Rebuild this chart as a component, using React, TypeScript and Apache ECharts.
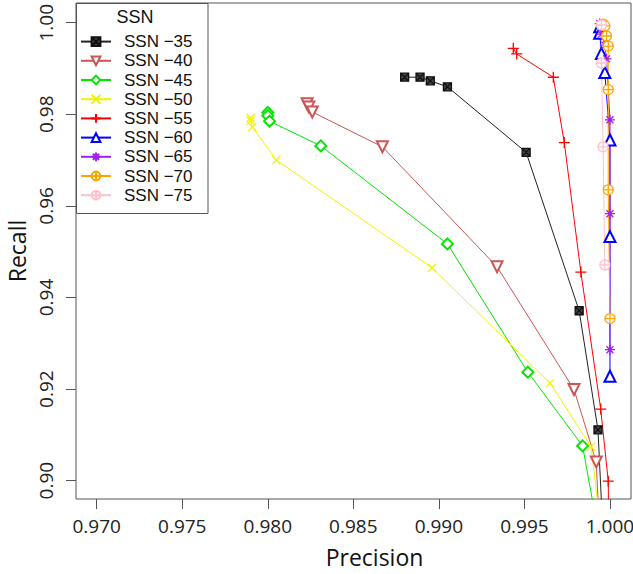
import React, { useEffect, useRef } from "react";
import * as echarts from "echarts";

// ---- data ----
const seriesNames = ["SSN −35", "SSN −40", "SSN −45", "SSN −50", "SSN −55", "SSN −60", "SSN −65", "SSN −70", "SSN −75"];

const precision35 = [0.988, 0.9889, 0.9895, 0.9905, 0.9951, 0.9982, 0.9993, 0.9997];
const recall35 = [0.9881, 0.9881, 0.9873, 0.986, 0.9717, 0.9371, 0.9111, 0.88];

const precision40 = [0.9823, 0.9824, 0.9826, 0.9867, 0.9934, 0.9979, 0.9992, 0.9995];
const recall40 = [0.9823, 0.9816, 0.9805, 0.9729, 0.9467, 0.9199, 0.9041, 0.88];

const precision45 = [0.98, 0.98, 0.9801, 0.9831, 0.9905, 0.9952, 0.9984, 0.9993];
const recall45 = [0.9804, 0.9797, 0.9785, 0.9731, 0.9517, 0.9237, 0.9076, 0.889];

const precision50 = [0.979, 0.979, 0.9791, 0.9805, 0.9896, 0.9965, 0.9989, 0.9996];
const recall50 = [0.9792, 0.9786, 0.9772, 0.97, 0.9465, 0.9213, 0.9074, 0.885];

const precision55 = [0.99435, 0.99455, 0.99669, 0.99733, 0.9983, 0.99946, 0.9999, 0.99995];
const recall55 = [0.99441, 0.99317, 0.98809, 0.97382, 0.94554, 0.91564, 0.89989, 0.88];

const precision60 = [0.9994, 0.9994, 0.9995, 0.9997, 1.0, 1.0, 1.0];
const recall60 = [0.9991, 0.9977, 0.9933, 0.9891, 0.9744, 0.9533, 0.9228];

const precision65 = [0.9994, 0.9995, 0.9997, 0.9998, 1.0, 1.0, 1.0];
const recall65 = [0.9998, 0.9975, 0.9951, 0.9921, 0.9788, 0.9583, 0.9286];

const precision70 = [0.9996, 0.9997, 0.9998, 0.9999, 0.9999, 0.9999, 1.0];
const recall70 = [0.9997, 0.9993, 0.9971, 0.9949, 0.9854, 0.9635, 0.9354];

const precision75 = [0.9995, 0.9995, 0.9996, 0.9997];
const recall75 = [0.9995, 0.9912, 0.9729, 0.9471];

const xTicks = [0.97, 0.975, 0.98, 0.985, 0.99, 0.995, 1.0];
const yTicks = [0.9, 0.92, 0.94, 0.96, 0.98, 1.0];

// ---- styles ----
const FONT = "Open Sans";
const LEGEND_FONT = "Liberation Sans";
const SYM_BOXX = "path://M0 0H10V10H0ZM0 0L10 10M10 0L0 10";
const SYM_X = "path://M0 0L10 10M10 0L0 10";
const SYM_PLUS = "path://M5 0V10M0 5H10";
const SYM_STAR = "path://M5 0V10M0 5H10M1.5 1.5L8.5 8.5M8.5 1.5L1.5 8.5";
const SYM_CPLUS = "path://M10 5A5 5 0 1 1 0 5A5 5 0 1 1 10 5ZM5 0V10M0 5H10";

function pairs(xs: number[], ys: number[]) {
  return xs.map((x, i) => [x, ys[i]]);
}

function mk(
  name: string,
  xs: number[],
  ys: number[],
  color: string,
  symbol: string,
  size: number,
  fill: string,
  stroke: string,
  rotate = 0
) {
  return {
    type: "line",
    name,
    data: pairs(xs, ys),
    symbol,
    symbolSize: size,
    symbolRotate: rotate,
    symbolKeepAspect: true,
    showAllSymbol: true,
    clip: true,
    lineStyle: { color, width: 1 },
    itemStyle: { color: fill, borderColor: stroke, borderWidth: 1.3 },
    emphasis: { disabled: true },
  };
}

export default function App() {
  const ref = useRef<HTMLDivElement>(null);
  useEffect(() => {
    if (!ref.current) return;
    const chart = echarts.init(ref.current, null, { renderer: "svg" });
    const option: any = {
      animation: false,
      backgroundColor: "#fff",
      textStyle: { fontFamily: FONT },
      grid: {
        left: 76,
        right: 2,
        top: 3,
        bottom: 75,
        outerBoundsMode: "none",
        containLabel: false,
        show: true,
        borderColor: "#555",
        borderWidth: 1,
        backgroundColor: "transparent",
      },
      xAxis: {
        type: "value",
        min: 0.96879,
        max: 1.00123,
        name: "Precision",
        nameLocation: "middle",
        nameGap: 46,
        nameMoveOverlap: false,
        nameTextStyle: { fontSize: 23, color: "#111", fontFamily: FONT, padding: [0, 0, 0, 42] },
        axisLine: { show: false },
        splitLine: { show: false },
        axisTick: { show: true, length: 10, lineStyle: { color: "#555" }, customValues: xTicks },
        axisLabel: {
          fontSize: 19,
          color: "#222",
          margin: 17,
          fontFamily: FONT,
          customValues: xTicks,
          formatter: (v: number) => v.toFixed(3),
        },
      },
      yAxis: {
        type: "value",
        min: 0.896,
        max: 1.0043,
        name: "Recall",
        nameLocation: "middle",
        nameGap: 48,
        nameMoveOverlap: false,
        nameTextStyle: { fontSize: 23, color: "#111", fontFamily: FONT },
        axisLine: { show: false },
        splitLine: { show: false },
        axisTick: { show: true, length: 10, lineStyle: { color: "#555" }, customValues: yTicks },
        axisLabel: {
          fontSize: 19,
          color: "#222",
          margin: 21,
          rotate: 90,
          fontFamily: FONT,
          customValues: yTicks,
          formatter: (v: number) => v.toFixed(2),
        },
      },
      legend: {
        data: seriesNames,
        orient: "vertical",
        left: 80,
        top: 32,
        padding: 0,
        itemWidth: 30,
        itemHeight: 11,
        itemGap: 0,
        selectedMode: false,
        z: 10,
        textStyle: { fontSize: 17, lineHeight: 19.2, color: "#111", fontFamily: LEGEND_FONT, padding: [0, 0, 0, 8] },
      },
      graphic: [
        {
          type: "rect",
          z: 5,
          shape: { x: 76.5, y: 3.5, width: 131.5, height: 210 },
          style: { fill: "#fff", stroke: "#555", lineWidth: 1 },
        },
        {
          type: "text",
          z: 6,
          x: 135,
          y: 17,
          style: { text: "SSN", fontSize: 18, fontFamily: LEGEND_FONT, fill: "#111", align: "center", verticalAlign: "middle" },
        },
      ],
      series: [
        mk(seriesNames[0], precision35, recall35, "#222", SYM_BOXX, 8, "#444", "#111"),
        mk(seriesNames[1], precision40, recall40, "#CD5555", "emptyTriangle", 11, "#CD5555", "#CD5555", 180),
        mk(seriesNames[2], precision45, recall45, "#00E600", "emptyDiamond", 11, "#00E600", "#00E600"),
        mk(seriesNames[3], precision50, recall50, "#F2F200", SYM_X, 8, "#F2F200", "#F2F200"),
        mk(seriesNames[4], precision55, recall55, "#FF0000", SYM_PLUS, 11, "#FF0000", "#FF0000"),
        mk(seriesNames[5], precision60, recall60, "#0000FF", "emptyTriangle", 11, "#0000FF", "#0000FF"),
        mk(seriesNames[6], precision65, recall65, "#A020F0", SYM_STAR, 10, "#A020F0", "#A020F0"),
        mk(seriesNames[7], precision70, recall70, "#FFA500", SYM_CPLUS, 10, "#fff", "#FFA500"),
        mk(seriesNames[8], precision75, recall75, "#FFC0CB", SYM_CPLUS, 10, "#fff", "#FFC0CB"),
      ],
    };
    chart.setOption(option);
    return () => chart.dispose();
  }, []);
  return (
    <div
      ref={ref}
      style={{ position: "fixed", left: 0, top: 0, width: 633, height: 574, background: "#fff" }}
    />
  );
}
